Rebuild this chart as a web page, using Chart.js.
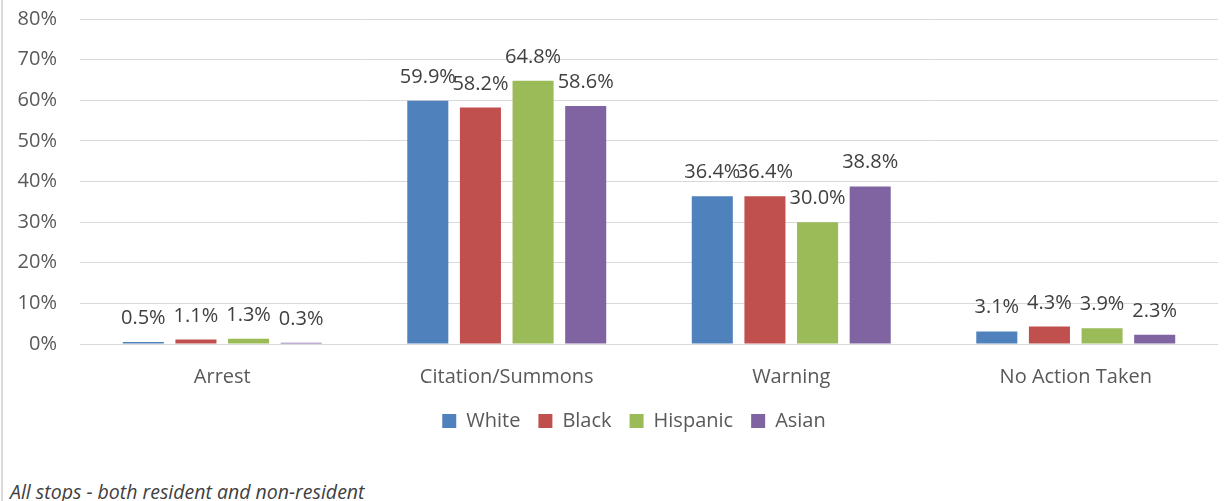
<!DOCTYPE html>
<html>
<head>
<meta charset="utf-8">
<title>Stop outcomes by race</title>
<script src="https://cdn.jsdelivr.net/npm/chart.js@4.4.0/dist/chart.umd.min.js"></script>
<style>
  body { margin: 0; background: #fff; }
  #wrap { position: relative; width: 1225px; height: 501px; overflow: hidden; }
  #frame { position: absolute; left: 1px; top: 0; width: 2px; height: 501px; background: #d9d9d9; }
  #chartBox { position: absolute; left: 0; top: 0; width: 1225px; height: 450px; }
  #note { position: absolute; left: 10px; top: 478px; font: italic 19.5px "Open Sans", sans-serif; color: #404040; }
</style>
</head>
<body>
<div id="wrap">
  <div id="frame"></div>
  <div id="chartBox"><canvas id="outcomes"></canvas></div>
  <div id="note">All stops - both resident and non-resident</div>
</div>
<script>
// outcome categories and percentage of stops per group
const categories = ['Arrest', 'Citation/Summons', 'Warning', 'No Action Taken'];
const white = [0.5, 59.9, 36.4, 3.1];
const black = [1.1, 58.2, 36.4, 4.3];
const hispanic = [1.3, 64.8, 30.0, 3.9];
const asian = [0.3, 58.6, 38.8, 2.3];
const yTicks = [0, 10, 20, 30, 40, 50, 60, 70, 80];

const FONT = '"Open Sans", sans-serif';
const SIZE = 20;

// value labels sitting above each bar
const barLabels = {
  id: 'barLabels',
  afterDatasetsDraw(chart) {
    const ctx = chart.ctx;
    ctx.save();
    ctx.font = SIZE + 'px ' + FONT;
    ctx.fillStyle = '#404040';
    ctx.textAlign = 'center';
    ctx.textBaseline = 'alphabetic';
    chart.data.datasets.forEach((ds, i) => {
      chart.getDatasetMeta(i).data.forEach((bar, j) => {
        ctx.fillText(ds.data[j].toFixed(1) + '%', bar.x, bar.y - 18);
      });
    });
    ctx.restore();
  }
};

// the legend sits a little right of the canvas centre
const legendShift = {
  id: 'legendShift',
  afterLayout(chart) {
    const lg = chart.legend;
    lg.left += 25;
    lg.right += 25;
  }
};

const ctx = document.getElementById('outcomes');

new Chart(ctx, {
  type: 'bar',
  data: {
    labels: categories,
    datasets: [
      { label: 'White', data: white, backgroundColor: '#4f81bd' },
      { label: 'Black', data: black, backgroundColor: '#c0504d' },
      { label: 'Hispanic', data: hispanic, backgroundColor: '#9bbb59' },
      { label: 'Asian', data: asian, backgroundColor: '#8064a2' }
    ]
  },
  options: {
    responsive: true,
    maintainAspectRatio: false,
    animation: false,
    categoryPercentage: 0.74,
    barPercentage: 0.78,
    layout: { padding: { top: 19, right: 7, bottom: 9, left: 0 } },
    plugins: {
      tooltip: { enabled: false },
      legend: {
        position: 'bottom',
        labels: {
          font: { family: FONT, size: 20 },
          color: '#595959',
          boxWidth: 14,
          boxHeight: 14,
          padding: 18
        }
      }
    },
    scales: {
      x: {
        afterFit(scale) { scale.height = 49; },
        grid: { display: false, drawTicks: false },
        border: { display: false },
        ticks: { font: { family: FONT, size: SIZE }, color: '#595959', padding: 21 }
      },
      y: {
        min: 0,
        max: 80,
        afterFit(scale) {
          scale.width = 80;
          scale.paddingTop = 0;
          scale.paddingBottom = 0;
        },
        afterBuildTicks(scale) { scale.ticks = yTicks.map(v => ({ value: v })); },
        grid: { color: '#d9d9d9', drawTicks: false },
        border: { display: false },
        ticks: {
          font: { family: FONT, size: SIZE },
          color: '#595959',
          padding: 23,
          callback: v => v + '%'
        }
      }
    }
  },
  plugins: [barLabels, legendShift]
});
</script>
</body>
</html>
